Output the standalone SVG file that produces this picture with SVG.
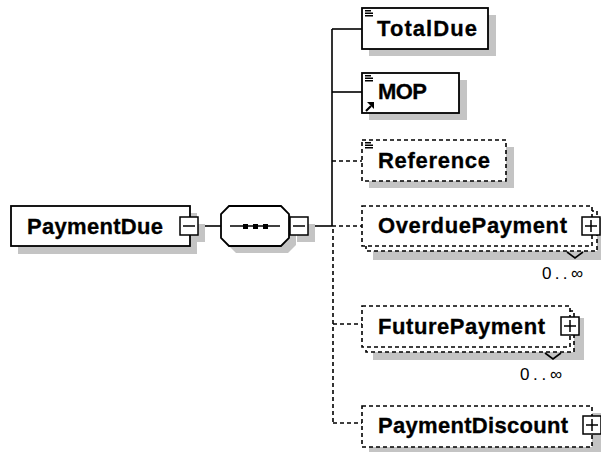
<svg xmlns="http://www.w3.org/2000/svg" width="601" height="452" viewBox="0 0 601 452">
  <defs>
    <style>
      .bg { fill: #ffffff; }
      .shadow { fill: #c4c4c4; stroke: none; }
      .box { fill: #ffffff; stroke: #000000; stroke-width: 1.8; }
      .opt { fill: #ffffff; stroke: #000000; stroke-width: 1.6; stroke-dasharray: 4 3; }
      .wire { fill: none; stroke: #000000; stroke-width: 1.6; }
      .wire-opt { fill: none; stroke: #000000; stroke-width: 1.6; stroke-dasharray: 4 3; }
      .tog { fill: #ffffff; stroke: #000000; stroke-width: 1.5; }
      .glyph { fill: none; stroke: #000000; stroke-width: 1.5; }
      .name { font-family: "Liberation Sans", Arial, sans-serif; font-weight: bold; font-size: 22px; fill: #000000; stroke: #000000; stroke-width: 0.3; }
      .occurs { font-family: "Liberation Sans", "DejaVu Sans", sans-serif; font-size: 17px; fill: #000000; }
    </style>
    <!-- simple-content marker (three bars) -->
    <g id="bars">
      <path class="glyph" d="M0 0.8h6M0 3.3h8M0 5.8h8" stroke-width="1.4"/>
    </g>
  </defs>

  <rect class="bg" x="0" y="0" width="601" height="452"/>

  <!-- connectors -->
  <g id="connectors">
    <path class="wire" d="M198 226H221"/>
    <path class="wire" d="M308 226H332"/>
    <path class="wire" d="M332 29V226"/>
    <path class="wire" d="M332 29H362"/>
    <path class="wire" d="M332 92H362"/>
    <path class="wire-opt" d="M332 161H362"/>
    <path class="wire-opt" d="M332 226H362"/>
    <path class="wire-opt" d="M333 229V423"/>
    <path class="wire-opt" d="M333 324H362"/>
    <path class="wire-opt" d="M333 423H362"/>
  </g>

  <!-- root element -->
  <g id="PaymentDue">
    <rect class="shadow" x="18" y="213" width="179" height="41"/>
    <rect class="shadow" x="187" y="224" width="18" height="18"/>
    <rect class="box" x="11" y="206" width="179" height="40"/>
    <text class="name" x="27" y="234" textLength="136" lengthAdjust="spacing">PaymentDue</text>
    <rect class="tog" x="180" y="217" width="18" height="18"/>
    <path class="glyph" d="M183 226H195"/>
  </g>

  <!-- sequence compositor -->
  <g id="sequence">
    <polygon class="shadow" points="236,213 288,213 296,221 296,245 288,253 236,253 228,245 228,221"/>
    <rect class="shadow" x="297" y="224" width="18" height="18"/>
    <polygon class="box" points="229,206 281,206 289,214 289,238 281,246 229,246 221,238 221,214"/>
    <path class="wire" d="M230 226H280"/>
    <rect x="243" y="224" width="5" height="5" fill="#000"/>
    <rect x="253" y="224" width="5" height="5" fill="#000"/>
    <rect x="263" y="224" width="5" height="5" fill="#000"/>
    <rect class="tog" x="290" y="217" width="18" height="18"/>
    <path class="glyph" d="M293 226H305"/>
  </g>

  <g id="TotalDue">
    <rect class="shadow" x="369" y="15" width="127" height="41"/>
    <rect class="box" x="362" y="8" width="126" height="41"/>
    <use href="#bars" x="365" y="10"/>
    <text class="name" x="377" y="36" textLength="100" lengthAdjust="spacing">TotalDue</text>
  </g>

  <g id="MOP">
    <rect class="shadow" x="369" y="80" width="98" height="40"/>
    <rect class="box" x="362" y="73" width="97" height="40"/>
    <use href="#bars" x="365" y="75"/>
    <path d="M366 111L371 106" stroke="#000" stroke-width="2.2"/>
    <polygon points="374,102 374,109 367,102" fill="#000"/>
    <text class="name" x="378" y="99" textLength="49" lengthAdjust="spacing">MOP</text>
  </g>

  <g id="Reference">
    <rect class="shadow" x="369" y="147" width="145" height="41"/>
    <rect class="opt" x="362" y="140" width="144" height="41"/>
    <use href="#bars" x="365" y="142"/>
    <text class="name" x="378" y="168" textLength="112" lengthAdjust="spacing">Reference</text>
  </g>

  <g id="OverduePayment">
    <rect class="shadow" x="373" y="218" width="232" height="42"/>
    <rect class="opt" x="366" y="211" width="231" height="40"/>
    <rect class="opt" x="362" y="206" width="230" height="40"/>
    <polyline class="wire" points="567,252 575,258 583,252" stroke-width="1.2"/>
    <text class="name" x="378" y="233" textLength="189" lengthAdjust="spacing">OverduePayment</text>
    <rect class="tog" x="582" y="217" width="18" height="18"/>
    <path class="glyph" d="M585 226H597M591 220V232"/>
    <text class="occurs" x="542" y="279" textLength="41" lengthAdjust="spacing">0..∞</text>
  </g>

  <g id="FuturePayment">
    <rect class="shadow" x="373" y="318" width="211" height="42"/>
    <rect class="opt" x="366" y="311" width="208" height="41"/>
    <rect class="opt" x="362" y="306" width="208" height="41"/>
    <polyline class="wire" points="545,353 553,359 561,353" stroke-width="1.2"/>
    <text class="name" x="378" y="334" textLength="167" lengthAdjust="spacing">FuturePayment</text>
    <rect class="tog" x="561" y="317" width="18" height="18"/>
    <path class="glyph" d="M564 326H576M570 320V332"/>
    <text class="occurs" x="520" y="380" textLength="42" lengthAdjust="spacing">0..∞</text>
  </g>

  <g id="PaymentDiscount">
    <rect class="shadow" x="369" y="413" width="232" height="41"/>
    <rect class="opt" x="362" y="406" width="230" height="41"/>
    <text class="name" x="378" y="433" textLength="190" lengthAdjust="spacing">PaymentDiscount</text>
    <rect class="tog" x="583" y="416" width="18" height="18"/>
    <path class="glyph" d="M586 425H598M592 419V431"/>
  </g>
</svg>
